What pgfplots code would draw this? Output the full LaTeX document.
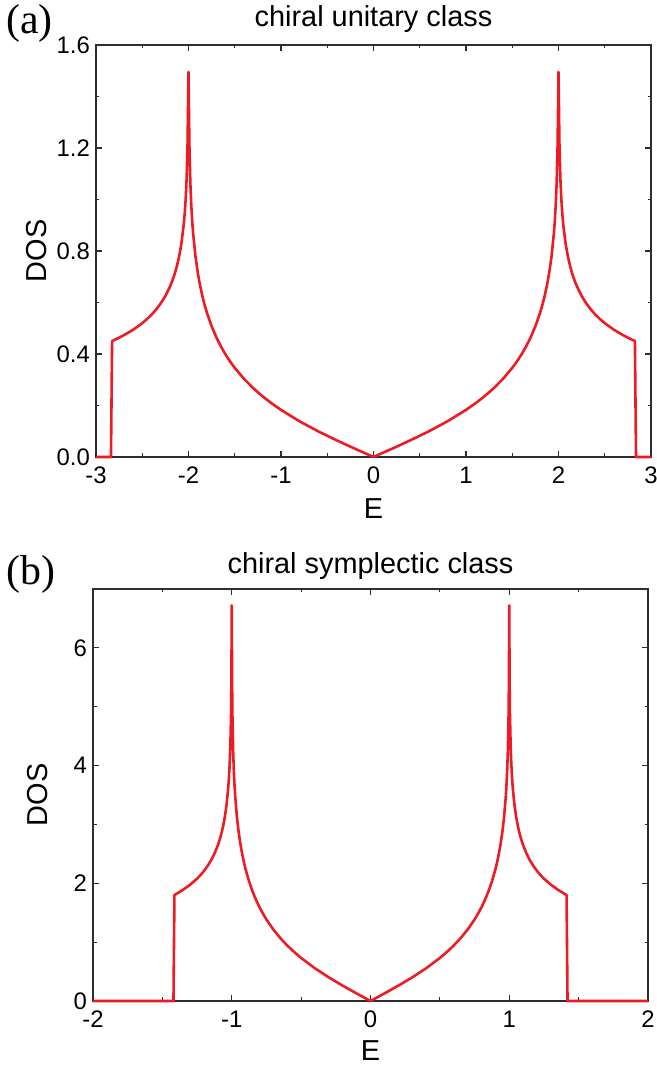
\documentclass[border=0pt]{standalone}
\usepackage{pgfplots}
\pgfplotsset{compat=1.18}
\usepackage{fontspec}
\setmainfont{Liberation Sans}
\newfontfamily\seriffont{Liberation Serif}
\definecolor{curve}{RGB}{237,28,36}
\definecolor{axisgray}{RGB}{45,45,45}
\pgfplotsset{
  dosstyle/.style={
    scale only axis, width=555bp, height=412bp,
    axis line style={axisgray, line width=1.3bp},
    every tick/.style={axisgray, line width=1.1bp},
    tick align=inside, xtick pos=both, ytick pos=both,
    major tick length=6bp, minor tick length=3.5bp,
    /pgf/number format/assume math mode=true,
    tick label style={font=\fontsize{24}{28}\selectfont, inner sep=0pt},
    xticklabel style={anchor=north, yshift=-10bp},
    yticklabel style={anchor=east, xshift=-6bp},
    clip=false,
  }
}
\begin{document}
\begin{tikzpicture}
\useasboundingbox (0bp,0bp) rectangle (657bp,1068bp);
% ---------------- (a) ----------------
\begin{axis}[dosstyle, at={(96bp,611bp)}, anchor=south west,
  xmin=-3, xmax=3, ymin=0, ymax=1.6,
  xtick={-3,-2,-1,0,1,2,3}, minor xtick={-2.5,-1.5,-0.5,0.5,1.5,2.5},
  ytick={0,0.4,0.8,1.2,1.6}, minor ytick={0.2,0.6,1.0,1.4},
  yticklabel style={/pgf/number format/.cd, fixed, fixed zerofill, precision=1},
]
\addplot[curve, line width=2.6bp, line join=round] table {
-3.0 0
-2.838 0
-2.826 0.4501
-2.8 0.4548
-2.75 0.4634
-2.7 0.4727
-2.6 0.4939
-2.5 0.5197
-2.45 0.5351
-2.4 0.5525
-2.35 0.5727
-2.3 0.5965
-2.25 0.6254
-2.2 0.6618
-2.175 0.6841
-2.15 0.7102
-2.125 0.7418
-2.1 0.7811
-2.075 0.8330
-2.05 0.9081
-2.04 0.9501
-2.03 1.0050
-2.02 1.0835
-2.01 1.2197
-2.005 1.3581
-2.0 1.495
-1.995 1.3514
-1.99 1.2086
-1.98 1.0640
-1.97 0.9783
-1.96 0.9168
-1.95 0.8687
-1.925 0.7801
-1.9 0.7163
-1.875 0.6662
-1.85 0.6249
-1.825 0.5898
-1.8 0.5591
-1.75 0.5077
-1.7 0.4654
-1.65 0.4295
-1.6 0.3983
-1.55 0.3707
-1.5 0.3461
-1.4 0.3034
-1.3 0.2672
-1.2 0.2358
-1.1 0.2079
-1.0 0.1828
-0.8 0.1387
-0.6 0.1000
-0.4 0.0650
-0.2 0.0320
0.0 0
0.2 0.0320
0.4 0.0650
0.6 0.1000
0.8 0.1387
1.0 0.1828
1.1 0.2079
1.2 0.2358
1.3 0.2672
1.4 0.3034
1.5 0.3461
1.55 0.3707
1.6 0.3983
1.65 0.4295
1.7 0.4654
1.75 0.5077
1.8 0.5591
1.825 0.5898
1.85 0.6249
1.875 0.6662
1.9 0.7163
1.925 0.7801
1.95 0.8687
1.96 0.9168
1.97 0.9783
1.98 1.0640
1.99 1.2086
1.995 1.3514
2.0 1.495
2.005 1.3581
2.01 1.2197
2.02 1.0835
2.03 1.0050
2.04 0.9501
2.05 0.9081
2.075 0.8330
2.1 0.7811
2.125 0.7418
2.15 0.7102
2.175 0.6841
2.2 0.6618
2.25 0.6254
2.3 0.5965
2.35 0.5727
2.4 0.5525
2.45 0.5351
2.5 0.5197
2.6 0.4939
2.7 0.4727
2.75 0.4634
2.8 0.4548
2.826 0.4501
2.838 0
3.0 0
};
\node[anchor=base, inner sep=0pt, font=\fontsize{29}{34}\selectfont] at (axis description cs:0.5,1.0437) {chiral unitary class};
\node[anchor=north, inner sep=0pt, font=\fontsize{29}{34}\selectfont] at (axis description cs:0.5,-0.0995) {E};
\node[anchor=south, rotate=90, inner sep=0pt, font=\fontsize{29}{34}\selectfont] at (axis description cs:-0.088,0.5) {DOS};
\end{axis}
% ---------------- (b) ----------------
\begin{axis}[dosstyle, at={(93bp,67bp)}, anchor=south west,
  xmin=-2, xmax=2, ymin=0, ymax=7,
  xtick={-2,-1,0,1,2}, minor xtick={-1.5,-0.5,0.5,1.5},
  ytick={0,2,4,6}, minor ytick={1,3,5},
]
\addplot[curve, line width=2.6bp, line join=round] table {
-2.0 0
-1.42 0
-1.413 1.800
-1.4 1.819
-1.375 1.854
-1.35 1.891
-1.3 1.976
-1.25 2.079
-1.225 2.140
-1.2 2.210
-1.175 2.291
-1.15 2.386
-1.125 2.502
-1.1 2.647
-1.0875 2.736
-1.075 2.841
-1.0625 2.967
-1.05 3.124
-1.0375 3.332
-1.025 3.632
-1.02 3.800
-1.015 4.020
-1.01 4.334
-1.005 4.879
-1.0025 5.432
-1.0 6.72
-0.9975 5.406
-0.995 4.834
-0.99 4.256
-0.985 3.913
-0.98 3.667
-0.975 3.475
-0.9625 3.120
-0.95 2.865
-0.9375 2.665
-0.925 2.500
-0.9125 2.359
-0.9 2.236
-0.875 2.031
-0.85 1.862
-0.825 1.718
-0.8 1.593
-0.775 1.483
-0.75 1.384
-0.7 1.214
-0.65 1.069
-0.6 0.943
-0.55 0.832
-0.5 0.731
-0.4 0.555
-0.3 0.400
-0.2 0.260
-0.1 0.128
0.0 0
0.1 0.128
0.2 0.260
0.3 0.400
0.4 0.555
0.5 0.731
0.55 0.832
0.6 0.943
0.65 1.069
0.7 1.214
0.75 1.384
0.775 1.483
0.8 1.593
0.825 1.718
0.85 1.862
0.875 2.031
0.9 2.236
0.9125 2.359
0.925 2.500
0.9375 2.665
0.95 2.865
0.9625 3.120
0.975 3.475
0.98 3.667
0.985 3.913
0.99 4.256
0.995 4.834
0.9975 5.406
1.0 6.72
1.0025 5.432
1.005 4.879
1.01 4.334
1.015 4.020
1.02 3.800
1.025 3.632
1.0375 3.332
1.05 3.124
1.0625 2.967
1.075 2.841
1.0875 2.736
1.1 2.647
1.125 2.502
1.15 2.386
1.175 2.291
1.2 2.210
1.225 2.140
1.25 2.079
1.3 1.976
1.35 1.891
1.375 1.854
1.4 1.819
1.413 1.800
1.42 0
2.0 0
};
\node[anchor=base, inner sep=0pt, font=\fontsize{29}{34}\selectfont] at (axis description cs:0.5,1.0388) {chiral symplectic class};
\node[anchor=north, inner sep=0pt, font=\fontsize{29}{34}\selectfont] at (axis description cs:0.5,-0.095) {E};
\node[anchor=south, rotate=90, inner sep=0pt, font=\fontsize{29}{34}\selectfont] at (axis description cs:-0.082,0.5) {DOS};
\end{axis}
\node[anchor=base west, inner sep=0pt, font=\seriffont\fontsize{42}{48}\selectfont] at (6bp,1034bp) {(a)};
\node[anchor=base west, inner sep=0pt, font=\seriffont\fontsize{42}{48}\selectfont] at (6bp,483bp) {(b)};
\end{tikzpicture}
\end{document}
